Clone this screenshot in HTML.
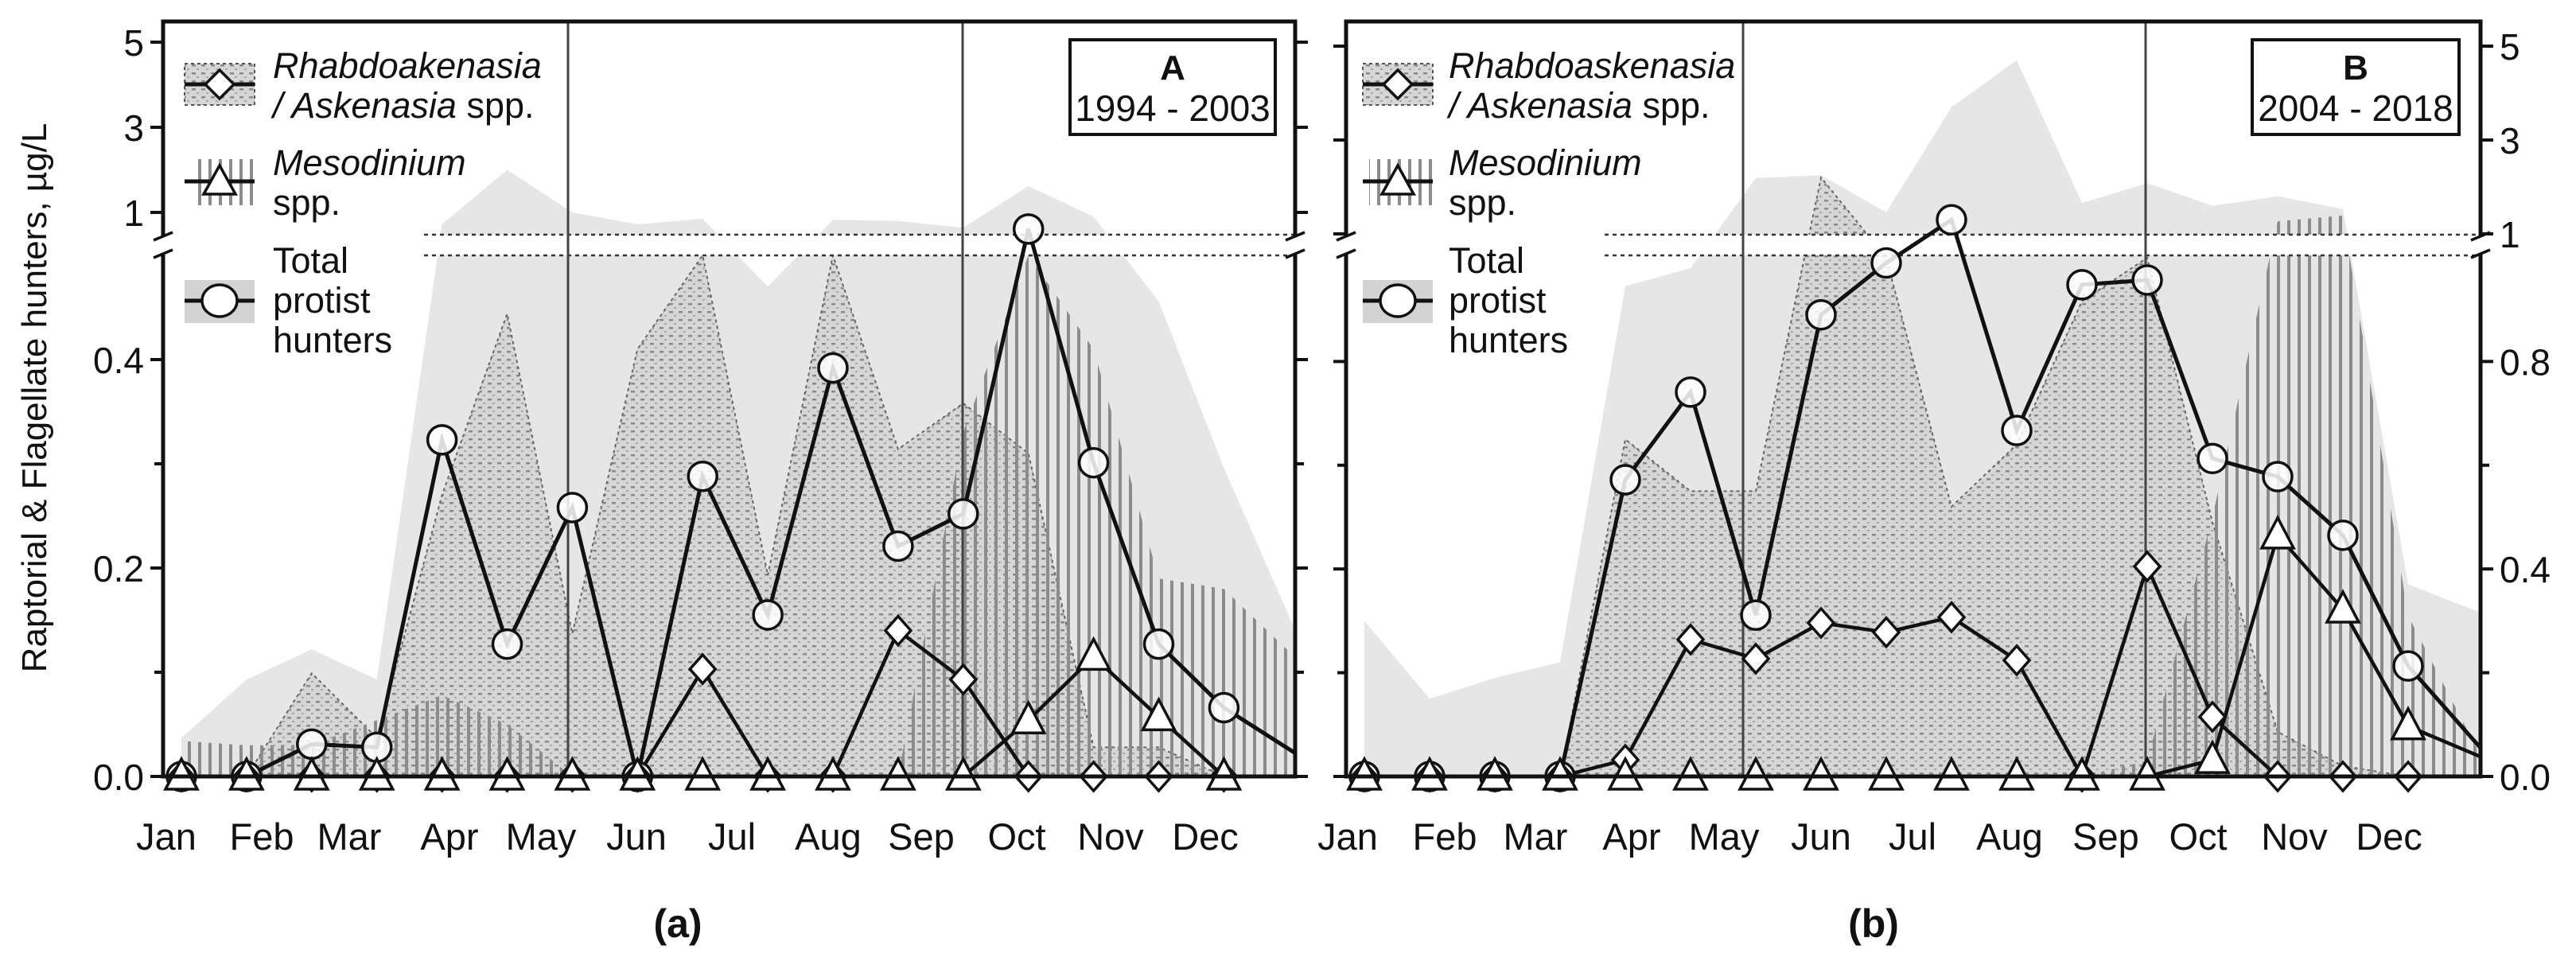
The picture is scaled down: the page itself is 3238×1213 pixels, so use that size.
<!DOCTYPE html>
<html><head><meta charset="utf-8"><style>
html,body{margin:0;padding:0;background:#fff}
svg{display:block}
text{font-family:"Liberation Sans",Arial,sans-serif;fill:#111}
</style></head><body>
<svg id="chart" width="3238" height="1213" viewBox="0 0 3238 1213" xmlns="http://www.w3.org/2000/svg">
<defs>
<pattern id="stip" width="12" height="10" patternUnits="userSpaceOnUse">
<rect width="12" height="10" fill="#d6d6d6"/>
<rect x="1" y="1" width="5" height="2.5" fill="#8a8a8a"/>
<rect x="7" y="6" width="3" height="2" fill="#a8a8a8"/>
</pattern>
<pattern id="hatch" width="13" height="10" patternUnits="userSpaceOnUse">
<rect x="2" y="0" width="4" height="10" fill="#8c8c8c"/>
</pattern>
<clipPath id="clipA"><rect x="205" y="27" width="1423" height="949"/></clipPath>
<clipPath id="clipB"><rect x="1692" y="27" width="1426" height="949"/></clipPath>
</defs>
<g id="root"></g>
</svg>
<script>
// ---------- data ----------
const months = ["Jan","Feb","Mar","Apr","May","Jun","Jul","Aug","Sep","Oct","Nov","Dec"];
const sampleIdx = [0,1,2,3,4,5,6,7,8,9,10,11,12,13,14,15,16];
// Panel A (1994-2003)
const totalA  = [0,0,0.031,0.028,0.323,0.127,0.258,0,0.288,0.155,0.392,0.221,0.252,0.61,0.301,0.127,0.066];
const rhabdoA = [0,0,0,0,0,0,0,0,0.103,0,0,0.14,0.093,0,0,0,0];
const mesoA   = [0,0,0,0,0,0,0,0,0,0,0,0,0,0.054,0.115,0.057,0];
const totalAEnd = 0.013;
const envTotalA  = [0.037,0.093,0.122,0.093,0.72,2.0,1.0,0.72,0.85,0.47,0.83,0.8,0.64,1.62,0.9,0.456,0.296,0.107];
const envRhabdoA = [0,0,0.099,0.037,0.27,0.444,0.137,0.41,0.5,0.193,0.5,0.314,0.358,0.31,0.028,0.028,0,0];
const envMesoA   = [0.034,0.03,0.03,0.054,0.078,0.05,0,0,0,0,0,0,0.33,0.5,0.41,0.19,0.18,0.1];
// Panel B (2004-2018)
const totalB  = [0,0,0,0,0.572,0.741,0.311,0.89,0.99,1.3,0.667,0.948,0.957,0.613,0.578,0.465,0.213];
const rhabdoB = [0,0,0,0,0.032,0.264,0.227,0.296,0.278,0.307,0.224,0,0.405,0.115,0,0,0];
const mesoB   = [0,0,0,0,0,0,0,0,0,0,0,0,0,0.032,0.465,0.322,0.097];
const totalBEnd = 0.055;
const mesoBEnd = 0.038;
const envTotalB  = [0.3,0.15,0.19,0.22,0.945,0.98,2.19,2.25,1.46,3.7,4.7,1.66,2.08,1.6,1.8,1.53,0.37,0.316];
const envRhabdoB = [0,0,0,0,0.65,0.55,0.55,2.2,1.0,0.52,0.64,0.916,1.0,0.49,0.086,0.02,0,0];
const envMesoB   = [0,0,0,0,0,0,0,0,0,0,0,0,0.03,0.5,1.27,1.39,0.31,0.04];
const ticksLowA = [0,0.1,0.2,0.3,0.4];
const tickLabelsLowA = ["0.0","","0.2","","0.4"];
const ticksUp = [1,3,5];
const ticksLowB = [0,0.2,0.4,0.6,0.8];
const tickLabelsLowB = ["0.0","","0.4","","0.8"];

// ---------- scales ----------
const xA = i => 228 + 81.9*i;
const xB = i => 1715 + 82.0*i;
const yA = v => v <= 0.5 ? 976 - v*1310 : 267 - (v-1)*53.5;
const yB = v => v <= 1 ? 976 - v*652 : 294 - (v-1)*59;
const endA = 17.33, endB = 17.11;

const NS = "http://www.w3.org/2000/svg";
const root = document.getElementById("root");
function mk(tag, attrs, parent){
  const e = document.createElementNS(NS, tag);
  for (const k in attrs) e.setAttribute(k, attrs[k]);
  (parent||root).appendChild(e);
  return e;
}
function areaPath(xf, yf, vals, endI){
  let d = "M"+xf(0)+","+yf(0);
  vals.forEach((v,i)=>{ const ii = i===vals.length-1 ? endI : i; d += " L"+xf(ii)+","+yf(v); });
  d += " L"+xf(endI)+","+yf(0)+" Z";
  return d;
}
function linePts(xf, yf, vals, endI, endV){
  let p = vals.map((v,i)=>xf(i)+","+yf(v));
  if (endV !== undefined) p.push(xf(endI)+","+yf(endV));
  return p.join(" ");
}

function panel(cfg){
  const g = mk("g", {"clip-path":"url(#"+cfg.clip+")"});
  
  
  const a1 = mk("path",{d:areaPath(cfg.x,cfg.y,cfg.envT,cfg.end),fill:"#e6e6e6"},g);
  
  
  const a2 = mk("path",{d:areaPath(cfg.x,cfg.y,cfg.envR,cfg.end),fill:"url(#stip)",stroke:"#666","stroke-width":2,"stroke-dasharray":"4 4"},g);
  
  
  const a3 = mk("path",{d:areaPath(cfg.x,cfg.y,cfg.envM,cfg.end),fill:"url(#hatch)"},g);
  
  
  const bb = mk("rect",{x:cfg.breakX,y:295,width:cfg.right-cfg.breakX,height:26,fill:"#fff"},g);
  
  
  [295,321].forEach(yy=>{
    const l = mk("line",{x1:cfg.breakX,x2:cfg.right,y1:yy,y2:yy,stroke:"#333","stroke-width":2.5,"stroke-dasharray":"5 5"},g);
    
    
  });
  cfg.vlines.forEach(xx=>{
    const l = mk("line",{x1:xx,x2:xx,y1:27,y2:976,stroke:"#444","stroke-width":3},g);
    
    
  });
  const lt = mk("polyline",{points:linePts(cfg.x,cfg.y,cfg.tot,cfg.end,cfg.totEnd),fill:"none",stroke:"#111","stroke-width":5},g);
  
  
  const lr = mk("polyline",{points:linePts(cfg.x,cfg.y,cfg.rh),fill:"none",stroke:"#111","stroke-width":4.5},g);
  
  
  const lm = mk("polyline",{points:linePts(cfg.x,cfg.y,cfg.me,cfg.end,cfg.meEnd),fill:"none",stroke:"#111","stroke-width":4.5},g);
  
  
  cfg.tot.forEach((v,i)=>{
    const c = mk("circle",{cx:cfg.x(i),cy:cfg.y(v),r:18,fill:"#fff","fill-opacity":0.85,stroke:"#111","stroke-width":3.5});
    
    
  });
  cfg.rh.forEach((v,i)=>{
    const X=cfg.x(i),Y=cfg.y(v);
    const p = mk("polygon",{points:`${X},${Y-18} ${X+16},${Y} ${X},${Y+18} ${X-16},${Y}`,fill:"#fff",stroke:"#111","stroke-width":3.5});
    
    
  });
  cfg.me.forEach((v,i)=>{
    const X=cfg.x(i),Y=cfg.y(v);
    const p = mk("polygon",{points:`${X},${Y-22} ${X+20},${Y+16} ${X-20},${Y+16}`,fill:"#fff",stroke:"#111","stroke-width":3.5});
    
    
  });
  const fr = mk("path",{d:`M${cfg.left},321 V27 H${cfg.right} V321 M${cfg.left},295 V976 H${cfg.right} V295`,fill:"none",stroke:"#111","stroke-width":5});
  
  
  [cfg.left,cfg.right].forEach(xx=>{
    const w = mk("rect",{x:xx-4,y:298,width:8,height:20,fill:"#fff"});
    
    
    [297,319].forEach(yy=>{
      const s = mk("line",{x1:xx-12,y1:yy+5,x2:xx+12,y2:yy-5,stroke:"#111","stroke-width":3.5});
      
      
    });
  });
  [cfg.left,cfg.right].forEach((xx,side)=>{
    const dir = side===0 ? -1 : 1;
    cfg.lowTicks.forEach((t,k)=>{
      const yy = cfg.y(t);
      const len = cfg.lowLabels[k] ? 16 : 11;
      const tk = mk("line",{x1:xx,x2:xx+dir*len,y1:yy,y2:yy,stroke:"#111","stroke-width":4});
      
      
    });
    ticksUp.forEach(t=>{
      const yy = cfg.upY(t);
      const tk = mk("line",{x1:xx,x2:xx+dir*16,y1:yy,y2:yy,stroke:"#111","stroke-width":4});
      
      
    });
  });
  const anchor = cfg.labelSide<0 ? "end" : "start";
  const lx = cfg.labelSide<0 ? cfg.left-24 : cfg.right+24;
  cfg.lowTicks.forEach((t,k)=>{
    if(!cfg.lowLabels[k]) return;
    const tx = mk("text",{x:lx,y:cfg.y(t)+17,"font-size":46,"text-anchor":anchor});
    tx.textContent = cfg.lowLabels[k];
    
    
  });
  ticksUp.forEach(t=>{
    const tx = mk("text",{x:lx,y:cfg.upY(t)+17,"font-size":46,"text-anchor":anchor});
    tx.textContent = String(t);
    
    
  });
  months.forEach((m,k)=>{
    const tx = mk("text",{x:cfg.monthX[k],y:1068,"font-size":47,"text-anchor":"middle"});
    tx.textContent = m;
    
    
  });
}

panel({key:"panel-a",clip:"clipA",x:xA,y:yA,upY:v=>267-(v-1)*53.5,left:205,right:1628,end:endA,breakX:533,
  envT:envTotalA,envR:envRhabdoA,envM:envMesoA,tot:totalA,totEnd:totalAEnd,rh:rhabdoA,me:mesoA,meEnd:undefined,
  vlines:[714,1210],lowTicks:ticksLowA,lowLabels:tickLabelsLowA,labelSide:-1,
  monthX:[209,329,439,565,680,800,920,1041,1158,1278,1396,1515]});
panel({key:"panel-b",clip:"clipB",x:xB,y:yB,upY:v=>294-(v-1)*59,left:1692,right:3118,end:endB,breakX:2017,
  envT:envTotalB,envR:envRhabdoB,envM:envMesoB,tot:totalB,totEnd:totalBEnd,rh:rhabdoB,me:mesoB,meEnd:mesoBEnd,
  vlines:[2191,2697],lowTicks:ticksLowB,lowLabels:tickLabelsLowB,labelSide:1,
  monthX:[1694,1816,1930,2051,2167,2289,2404,2526,2647,2763,2884,3003]});

function legend(key, sx, tx, title1){
  const gl = mk("g",{});
  
  
  mk("rect",{x:sx,y:80,width:88,height:52,fill:"url(#stip)",stroke:"#555","stroke-width":2,"stroke-dasharray":"4 4"},gl);
  mk("line",{x1:sx,x2:sx+88,y1:106,y2:106,stroke:"#111","stroke-width":5},gl);
  mk("polygon",{points:`${sx+44},${88} ${sx+62},${106} ${sx+44},${124} ${sx+26},${106}`,fill:"#fff",stroke:"#111","stroke-width":3.5},gl);
  const t1 = mk("text",{x:tx,y:98,"font-size":45,"font-style":"italic"},gl);
  t1.textContent = title1;
  
  
  const t2 = mk("text",{x:tx,y:148,"font-size":45},gl);
  t2.innerHTML = '<tspan font-style="italic">/ Askenasia</tspan> spp.';
  mk("rect",{x:sx+8,y:200,width:80,height:58,fill:"url(#hatch)"},gl);
  mk("line",{x1:sx,x2:sx+88,y1:228,y2:228,stroke:"#111","stroke-width":5},gl);
  mk("polygon",{points:`${sx+44},${208} ${sx+64},${244} ${sx+24},${244}`,fill:"#fff",stroke:"#111","stroke-width":3.5},gl);
  const t3 = mk("text",{x:tx,y:220,"font-size":45,"font-style":"italic"},gl);
  t3.textContent = "Mesodinium";
  
  
  const t4 = mk("text",{x:tx,y:270,"font-size":45},gl);
  t4.textContent = "spp.";
  mk("rect",{x:sx,y:352,width:88,height:54,fill:"#d3d3d3"},gl);
  mk("line",{x1:sx,x2:sx+88,y1:378,y2:378,stroke:"#111","stroke-width":5},gl);
  mk("ellipse",{cx:sx+44,cy:378,rx:22,ry:20,fill:"#fff",stroke:"#111","stroke-width":3.5},gl);
  ["Total","protist","hunters"].forEach((w,k)=>{
    const t = mk("text",{x:tx,y:343+k*50,"font-size":45},gl);
    t.textContent = w;
    
    
  });
}
legend("panel-a", 232, 343, "Rhabdoakenasia");
legend("panel-b", 1713, 1821, "Rhabdoaskenasia");

function periodBox(key, x, w, letter, years){
  const r = mk("rect",{x:x,y:50,width:w,height:119,fill:"#fff",stroke:"#111","stroke-width":4});
  
  
  const a = mk("text",{x:x+w/2,y:100,"font-size":44,"font-weight":"bold","text-anchor":"middle"});
  a.textContent = letter;
  
  
  const b = mk("text",{x:x+w/2,y:152,"font-size":46,"text-anchor":"middle"});
  b.textContent = years;
  
  
}
periodBox("panel-a",1345,258,"A","1994 - 2003");
periodBox("panel-b",2831,260,"B","2004 - 2018");

const yt = mk("text",{x:0,y:0,"font-size":44,"text-anchor":"middle",transform:"translate(58,500) rotate(-90)"});
yt.textContent = "Raptorial & Flagellate hunters, µg/L";



const ca = mk("text",{x:852,y:1178,"font-size":50,"font-weight":"bold","text-anchor":"middle"});
ca.textContent = "(a)";


const cb = mk("text",{x:2355,y:1178,"font-size":50,"font-weight":"bold","text-anchor":"middle"});
cb.textContent = "(b)";


</script>
</body></html>
